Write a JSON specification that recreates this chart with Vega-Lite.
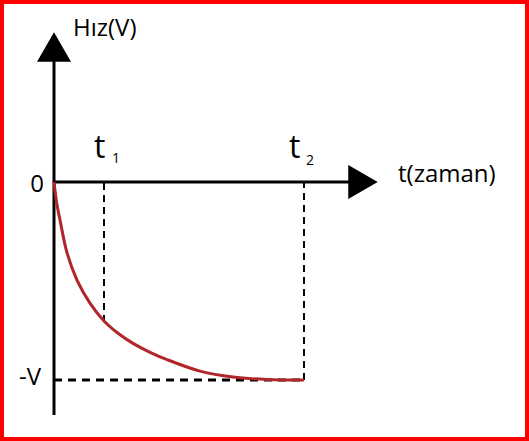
{
  "$schema": "https://vega.github.io/schema/vega-lite/v6.json",
  "width": 529,
  "height": 441,
  "autosize": "none",
  "padding": 0,
  "background": "white",
  "config": {"view": {"stroke": "#ff0000", "strokeWidth": 8}},
  "datasets": {
    "solid": [
      {"t": 0, "v": -1.177, "t2": 0, "v2": 0.62},
      {"t": 0, "v": 0, "t2": 5.95, "v2": 0}
    ],
    "dashV": [
      {"t": 1, "v": -0.707, "t2": 1, "v2": 0},
      {"t": 5, "v": -1, "t2": 5, "v2": 0}
    ],
    "dashH": [
      {"t": 0, "v": -1, "t2": 5, "v2": -1}
    ],
    "curve": [
      {"t": 0, "v": 0},
      {"t": 0.054, "v": -0.106},
      {"t": 0.12, "v": -0.192},
      {"t": 0.26, "v": -0.357},
      {"t": 0.46, "v": -0.495},
      {"t": 0.72, "v": -0.612},
      {"t": 1.0, "v": -0.702},
      {"t": 1.3, "v": -0.768},
      {"t": 1.58, "v": -0.815},
      {"t": 1.92, "v": -0.86},
      {"t": 2.26, "v": -0.897},
      {"t": 2.92, "v": -0.955},
      {"t": 3.58, "v": -0.985},
      {"t": 4.26, "v": -0.997},
      {"t": 5.0, "v": -1.0}
    ],
    "arrowUp": [{"t": 0, "v": 0.682}],
    "arrowRight": [{"t": 6.18, "v": 0}],
    "labels": [
      {"t": 0.38, "v": 0.737, "label": "Hız(V)", "anchor": "left"},
      {"t": 6.88, "v": 0, "label": "t(zaman)", "anchor": "left"},
      {"t": -0.2, "v": -0.05, "label": "0", "anchor": "right"},
      {"t": -0.26, "v": -1.025, "label": "-V", "anchor": "right"}
    ],
    "bigT": [
      {"t": 0.8, "v": 0.121, "label": "t"},
      {"t": 4.7, "v": 0.121, "label": "t"}
    ],
    "subs": [
      {"t": 1.16, "v": 0.096, "label": "1"},
      {"t": 5.04, "v": 0.086, "label": "2"}
    ]
  },
  "encoding": {
    "x": {"field": "t", "type": "quantitative", "scale": {"domain": [-1.08, 9.5], "nice": false, "zero": false}, "axis": null},
    "y": {"field": "v", "type": "quantitative", "scale": {"domain": [-1.308, 0.919], "nice": false, "zero": false}, "axis": null}
  },
  "layer": [
    {
      "data": {"name": "dashV"},
      "mark": {"type": "rule", "color": "black", "strokeWidth": 2, "strokeDash": [7, 5]},
      "encoding": {"x2": {"field": "t2"}, "y2": {"field": "v2"}}
    },
    {
      "data": {"name": "dashH"},
      "mark": {"type": "rule", "color": "black", "strokeWidth": 3, "strokeDash": [8, 6]},
      "encoding": {"x2": {"field": "t2"}, "y2": {"field": "v2"}}
    },
    {
      "data": {"name": "solid"},
      "mark": {"type": "rule", "color": "black", "strokeWidth": 3},
      "encoding": {"x2": {"field": "t2"}, "y2": {"field": "v2"}}
    },
    {
      "data": {"name": "curve"},
      "mark": {"type": "line", "color": "#b0262a", "strokeWidth": 3, "interpolate": "catmull-rom"},
      "encoding": {"order": {"field": "t", "type": "quantitative"}}
    },
    {
      "data": {"name": "arrowUp"},
      "mark": {"type": "point", "shape": "triangle-up", "size": 1156, "filled": true, "color": "black", "opacity": 1},
      "encoding": {}
    },
    {
      "data": {"name": "arrowRight"},
      "mark": {"type": "point", "shape": "triangle-right", "size": 1156, "filled": true, "color": "black", "opacity": 1},
      "encoding": {}
    },
    {
      "data": {"name": "labels"},
      "transform": [{"filter": "datum.anchor == 'left'"}],
      "mark": {"type": "text", "font": "Open Sans", "fontSize": 24, "align": "left", "baseline": "alphabetic", "color": "black"},
      "encoding": {"text": {"field": "label"}}
    },
    {
      "data": {"name": "labels"},
      "transform": [{"filter": "datum.anchor == 'right'"}],
      "mark": {"type": "text", "font": "Open Sans", "fontSize": 24, "align": "right", "baseline": "alphabetic", "color": "black"},
      "encoding": {"text": {"field": "label"}}
    },
    {
      "data": {"name": "bigT"},
      "mark": {"type": "text", "font": "Open Sans", "fontSize": 32, "align": "left", "baseline": "alphabetic", "color": "black"},
      "encoding": {"text": {"field": "label"}}
    },
    {
      "data": {"name": "subs"},
      "mark": {"type": "text", "font": "Open Sans", "fontSize": 14, "align": "left", "baseline": "alphabetic", "color": "black"},
      "encoding": {"text": {"field": "label"}}
    }
  ]
}
